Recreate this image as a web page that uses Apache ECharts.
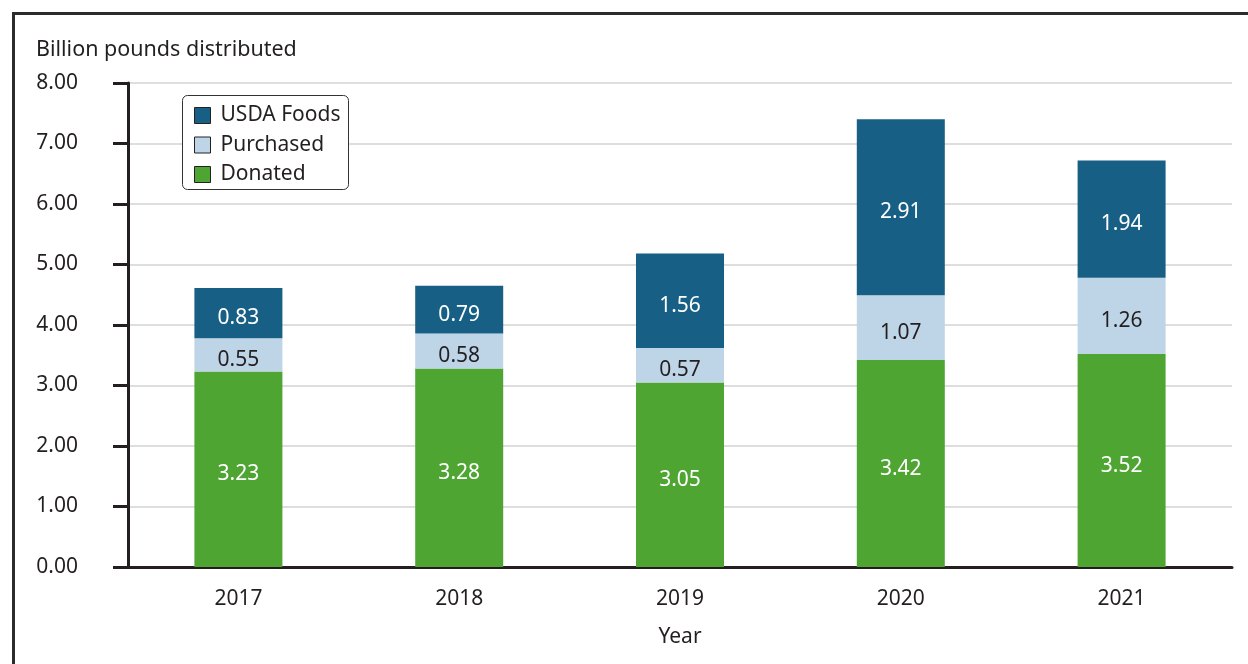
<!DOCTYPE html>
<html>
<head>
<meta charset="utf-8">
<script src="https://cdn.jsdelivr.net/npm/echarts@6/dist/echarts.min.js"></script>
<style>
  html, body { margin: 0; padding: 0; background: #fff; }
  #chart { width: 1248px; height: 664px; }
</style>
</head>
<body>
<div id="chart"></div>
<script>
// Food distributed by food banks, billion pounds
const years = ['2017', '2018', '2019', '2020', '2021'];
const donated = [3.23, 3.28, 3.05, 3.42, 3.52];
const purchased = [0.55, 0.58, 0.57, 1.07, 1.26];
const usdaFoods = [0.83, 0.79, 1.56, 2.91, 1.94];
const yTicks = [0, 1, 2, 3, 4, 5, 6, 7, 8];

const FONT = '"Source Sans Pro", "Noto Sans", sans-serif';
const TEXT = '#231f20';
const FS = 21;

const chart = echarts.init(document.getElementById('chart'), null, { renderer: 'canvas' });

function seriesOf(name, data, color, labelColor) {
  return {
    name: name,
    type: 'bar',
    stack: 'total',
    data: data,
    barWidth: 88,
    itemStyle: { color: color },
    label: {
      show: true,
      position: 'inside',
      offset: [0, 5],
      color: labelColor,
      fontFamily: FONT,
      fontSize: FS,
      formatter: p => p.value.toFixed(2)
    },
    emphasis: { disabled: true }
  };
}

chart.setOption({
  animation: false,
  textStyle: { fontFamily: FONT, color: TEXT },
  grid: { left: 128, right: 16, top: 83, bottom: 97, containLabel: false },
  graphic: [
    {
      type: 'rect',
      shape: { x: 13.5, y: 13.5, width: 1260, height: 700 },
      style: { fill: 'none', stroke: '#2b2b2b', lineWidth: 3 },
      silent: true
    },
    {
      type: 'text',
      left: 36, top: 39,
      style: { text: 'Billion pounds distributed', fontFamily: FONT, fontSize: 21.5, fill: TEXT }
    },
    {
      type: 'rect',
      shape: { x: 182.5, y: 95.5, width: 166, height: 94, r: 5 },
      style: { fill: '#fff', stroke: '#333', lineWidth: 1 },
      z: 5
    }
  ],
  legend: {
    data: ['USDA Foods', 'Purchased', 'Donated'],
    orient: 'vertical',
    left: 189, top: 100,
    itemWidth: 16, itemHeight: 16,
    itemGap: 8.5,
    icon: 'rect',
    itemStyle: { borderColor: '#222', borderWidth: 1 },
    textStyle: { fontFamily: FONT, fontSize: 21, lineHeight: 20, color: TEXT, padding: [0, 0, 0, 5] },
    z: 10,
    selectedMode: false
  },
  xAxis: {
    type: 'category',
    data: years,
    name: 'Year',
    nameLocation: 'middle',
    nameGap: 60,
    nameTextStyle: { fontFamily: FONT, fontSize: FS, color: TEXT },
    axisLine: { lineStyle: { color: TEXT, width: 3 } },
    axisTick: { show: false },
    axisLabel: { fontFamily: FONT, fontSize: FS, color: TEXT, margin: 22 }
  },
  yAxis: {
    type: 'value',
    min: yTicks[0],
    max: yTicks[yTicks.length - 1],
    interval: 1,
    axisLine: { show: true, lineStyle: { color: TEXT, width: 3 } },
    axisTick: { show: true, length: 15, lineStyle: { color: TEXT, width: 3 } },
    axisLabel: {
      fontFamily: FONT, fontSize: FS, color: TEXT, margin: 50,
      formatter: v => v.toFixed(2)
    },
    splitLine: { show: true, lineStyle: { color: '#d3d3d3', width: 1.5 } }
  },
  series: [
    seriesOf('Donated', donated, '#4ea532', '#ffffff'),
    seriesOf('Purchased', purchased, '#bed5e8', TEXT),
    seriesOf('USDA Foods', usdaFoods, '#175f84', '#ffffff')
  ]
});
</script>
</body>
</html>
